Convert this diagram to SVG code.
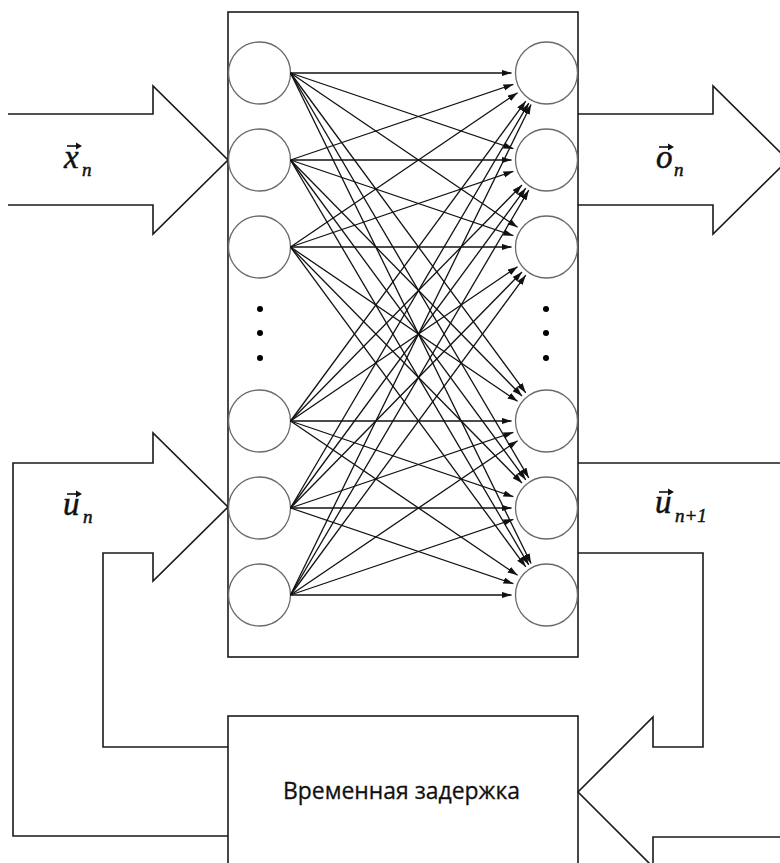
<svg xmlns="http://www.w3.org/2000/svg" width="780" height="863" viewBox="0 0 780 863">
<style>
.frame{fill:none;stroke:#1a1a1a;stroke-width:1.6;stroke-linejoin:miter}
.node{fill:#fff;stroke:#6a6a6a;stroke-width:1.3}
.conn line{stroke:#111;stroke-width:1.3;marker-end:url(#ah)}
.math{font-family:"Liberation Serif","DejaVu Serif",serif;font-style:italic;fill:#111;stroke:#111;stroke-width:0.5}
.vec{stroke:#111;stroke-width:1.6;fill:none}
.vh{fill:#111}
.lbl{font-family:"Open Sans","Noto Sans","Liberation Sans",sans-serif;font-size:23px;fill:#111;stroke:#111;stroke-width:0.3}
.dot{fill:#000}
</style>
<defs>
<marker id="ah" markerUnits="userSpaceOnUse" markerWidth="11" markerHeight="7" refX="10" refY="3.25" orient="auto">
<path d="M0,0 L10,3.25 L0,6.5 z" fill="#111"/>
</marker>
</defs>
<rect width="780" height="863" fill="#fff"/>

<g id="arrow-in-x">
<polyline class="frame" points="8,114 153,114 153,86 228,160 153,234 153,205 8,205"/>
</g>
<g id="arrow-out-o">
<polyline class="frame" points="578,114 713,114 713,86 788,160 713,234 713,205 578,205"/>
</g>
<g id="loop-left-u">
<polyline class="frame" points="228,836 13,836 13,463 153,463 153,433 228,507 153,581 153,553 103,553 103,747 228,747"/>
</g>
<g id="loop-right-u">
<polyline class="frame" points="578,463 790,463"/>
<polyline class="frame" points="578,553 703,553 703,747 653,747 653,717 578,792 653,867 653,837 790,837"/>
</g>

<g id="network-box">
<rect class="frame" x="228" y="12" width="350" height="645"/>
</g>
<g id="delay-box">
<rect class="frame" x="228" y="716" width="350" height="170"/>
<text class="lbl" x="401.5" y="799" text-anchor="middle" textLength="237" lengthAdjust="spacingAndGlyphs">Временная задержка</text>
</g>

<g id="in-nodes">
<circle class="node" cx="259.5" cy="73" r="31"/>
<circle class="node" cx="259.5" cy="160" r="31"/>
<circle class="node" cx="259.5" cy="247" r="31"/>
<circle class="node" cx="259.5" cy="421" r="31"/>
<circle class="node" cx="259.5" cy="508" r="31"/>
<circle class="node" cx="259.5" cy="595" r="31"/>
<circle class="dot" cx="260" cy="309" r="3"/>
<circle class="dot" cx="260" cy="333" r="3"/>
<circle class="dot" cx="260" cy="358" r="3"/>
</g>
<g id="out-nodes">
<circle class="node" cx="546.5" cy="73" r="31"/>
<circle class="node" cx="546.5" cy="160" r="31"/>
<circle class="node" cx="546.5" cy="247" r="31"/>
<circle class="node" cx="546.5" cy="421" r="31"/>
<circle class="node" cx="546.5" cy="508" r="31"/>
<circle class="node" cx="546.5" cy="595" r="31"/>
<circle class="dot" cx="546" cy="309" r="3"/>
<circle class="dot" cx="546" cy="333" r="3"/>
<circle class="dot" cx="546" cy="358" r="3"/>
</g>

<g id="connectors" class="conn">
<line x1="290.5" y1="73" x2="511.5" y2="73"/>
<line x1="290.5" y1="73" x2="513.36" y2="148.74"/>
<line x1="290.5" y1="73" x2="517.55" y2="227.33"/>
<line x1="290.5" y1="73" x2="525.76" y2="392.81"/>
<line x1="290.5" y1="73" x2="528.75" y2="477.84"/>
<line x1="290.5" y1="73" x2="531.09" y2="563.58"/>
<line x1="290.5" y1="160" x2="513.36" y2="84.26"/>
<line x1="290.5" y1="160" x2="511.5" y2="160"/>
<line x1="290.5" y1="160" x2="513.36" y2="235.74"/>
<line x1="290.5" y1="160" x2="521.99" y2="396.01"/>
<line x1="290.5" y1="160" x2="525.76" y2="479.81"/>
<line x1="290.5" y1="160" x2="528.75" y2="564.84"/>
<line x1="290.5" y1="247" x2="517.55" y2="92.67"/>
<line x1="290.5" y1="247" x2="513.36" y2="171.26"/>
<line x1="290.5" y1="247" x2="511.5" y2="247"/>
<line x1="290.5" y1="247" x2="517.55" y2="401.33"/>
<line x1="290.5" y1="247" x2="521.99" y2="483.01"/>
<line x1="290.5" y1="247" x2="525.76" y2="566.81"/>
<line x1="290.5" y1="421" x2="525.76" y2="101.19"/>
<line x1="290.5" y1="421" x2="521.99" y2="184.99"/>
<line x1="290.5" y1="421" x2="517.55" y2="266.67"/>
<line x1="290.5" y1="421" x2="511.5" y2="421"/>
<line x1="290.5" y1="421" x2="513.36" y2="496.74"/>
<line x1="290.5" y1="421" x2="517.55" y2="575.33"/>
<line x1="290.5" y1="508" x2="528.75" y2="103.16"/>
<line x1="290.5" y1="508" x2="525.76" y2="188.19"/>
<line x1="290.5" y1="508" x2="521.99" y2="271.99"/>
<line x1="290.5" y1="508" x2="513.36" y2="432.26"/>
<line x1="290.5" y1="508" x2="511.5" y2="508"/>
<line x1="290.5" y1="508" x2="513.36" y2="583.74"/>
<line x1="290.5" y1="595" x2="531.09" y2="104.42"/>
<line x1="290.5" y1="595" x2="528.75" y2="190.16"/>
<line x1="290.5" y1="595" x2="525.76" y2="275.19"/>
<line x1="290.5" y1="595" x2="517.55" y2="440.67"/>
<line x1="290.5" y1="595" x2="513.36" y2="519.26"/>
<line x1="290.5" y1="595" x2="511.5" y2="595"/>
</g>

<g id="label-x">
<text class="math" x="64" y="168" font-size="33">x</text>
<text class="math" x="82" y="176" font-size="19">n</text>
<path class="vec" d="M67,146 H78"/><path class="vh" d="M82,146 L76,142.5 L76,149.5 z"/>
</g>
<g id="label-o">
<text class="math" x="656" y="168" font-size="33">o</text>
<text class="math" x="674" y="176" font-size="19">n</text>
<path class="vec" d="M659,147 H670"/><path class="vh" d="M674,147 L668,143.5 L668,150.5 z"/>
</g>
<g id="label-u">
<text class="math" x="63" y="515" font-size="33">u</text>
<text class="math" x="83" y="523" font-size="19">n</text>
<path class="vec" d="M67,494 H78"/><path class="vh" d="M82,494 L76,490.5 L76,497.5 z"/>
</g>
<g id="label-u1">
<text class="math" x="655" y="513" font-size="33">u</text>
<text class="math" x="675" y="522" font-size="19">n+1</text>
<path class="vec" d="M659,492 H670"/><path class="vh" d="M674,492 L668,488.5 L668,495.5 z"/>
</g>
</svg>
